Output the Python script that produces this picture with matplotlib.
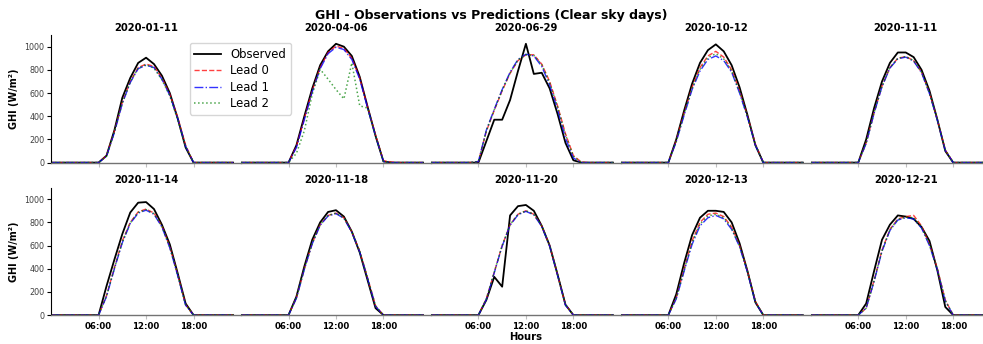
import numpy as np
import matplotlib.pyplot as plt

# ---------------- DATA ----------------
hours = list(range(24))
dates = ["2020-01-11", "2020-04-06", "2020-06-29", "2020-10-12", "2020-11-11",
         "2020-11-14", "2020-11-18", "2020-11-20", "2020-12-13", "2020-12-21"]

# hourly GHI (W/m2), index = hour of day
observed = [
    [0, 0, 0, 0, 0, 0, 0, 60, 280, 560, 730, 860, 905, 850, 750, 600, 380, 130, 0, 0, 0, 0, 0, 0],
    [0, 0, 0, 0, 0, 0, 0, 150, 400, 640, 840, 960, 1025, 1000, 920, 740, 480, 230, 10, 0, 0, 0, 0, 0],
    [0, 0, 0, 0, 0, 0, 0, 185, 370, 370, 540, 790, 1025, 765, 775, 640, 420, 170, 20, 0, 0, 0, 0, 0],
    [0, 0, 0, 0, 0, 0, 0, 200, 450, 680, 860, 970, 1020, 960, 840, 650, 410, 150, 0, 0, 0, 0, 0, 0],
    [0, 0, 0, 0, 0, 0, 0, 200, 470, 700, 860, 950, 950, 910, 800, 620, 370, 100, 0, 0, 0, 0, 0, 0],
    [0, 0, 0, 0, 0, 0, 0, 250, 480, 700, 885, 970, 975, 915, 780, 610, 360, 100, 0, 0, 0, 0, 0, 0],
    [0, 0, 0, 0, 0, 0, 0, 160, 420, 650, 800, 890, 905, 850, 720, 540, 300, 60, 0, 0, 0, 0, 0, 0],
    [0, 0, 0, 0, 0, 0, 0, 130, 330, 245, 860, 940, 950, 900, 770, 600, 350, 90, 0, 0, 0, 0, 0, 0],
    [0, 0, 0, 0, 0, 0, 0, 180, 450, 690, 840, 900, 900, 890, 800, 620, 380, 110, 0, 0, 0, 0, 0, 0],
    [0, 0, 0, 0, 0, 0, 0, 100, 380, 650, 780, 860, 850, 830, 760, 640, 385, 70, 0, 0, 0, 0, 0, 0],
]

lead0 = [
    [0, 0, 0, 0, 0, 0, 0, 60, 270, 520, 700, 820, 850, 830, 730, 590, 390, 150, 0, 0, 0, 0, 0, 0],
    [0, 0, 0, 0, 0, 0, 0, 140, 380, 620, 820, 950, 1005, 985, 900, 730, 480, 240, 15, 5, 0, 0, 0, 0],
    [0, 0, 0, 0, 0, 0, 10, 270, 450, 620, 770, 880, 930, 930, 850, 700, 490, 250, 60, 5, 0, 0, 0, 0],
    [0, 0, 0, 0, 0, 0, 0, 190, 430, 650, 820, 920, 960, 910, 800, 620, 400, 160, 0, 0, 0, 0, 0, 0],
    [0, 0, 0, 0, 0, 0, 0, 170, 430, 660, 820, 900, 915, 880, 780, 600, 370, 110, 0, 0, 0, 0, 0, 0],
    [0, 0, 0, 0, 0, 0, 0, 170, 410, 640, 800, 890, 915, 880, 770, 590, 350, 90, 0, 0, 0, 0, 0, 0],
    [0, 0, 0, 0, 0, 0, 0, 150, 400, 620, 780, 860, 880, 840, 720, 550, 320, 80, 0, 0, 0, 0, 0, 0],
    [0, 0, 0, 0, 0, 0, 0, 140, 370, 600, 780, 870, 900, 870, 770, 600, 350, 90, 0, 0, 0, 0, 0, 0],
    [0, 0, 0, 0, 0, 0, 0, 150, 400, 640, 800, 870, 880, 850, 760, 600, 380, 120, 0, 0, 0, 0, 0, 0],
    [0, 0, 0, 0, 0, 0, 0, 60, 300, 560, 740, 830, 850, 860, 770, 610, 400, 130, 0, 0, 0, 0, 0, 0],
]

lead1 = [
    [0, 0, 0, 0, 0, 0, 0, 55, 260, 510, 690, 810, 840, 820, 720, 580, 380, 140, 0, 0, 0, 0, 0, 0],
    [0, 0, 0, 0, 0, 0, 0, 130, 370, 610, 810, 940, 995, 975, 890, 720, 470, 230, 10, 0, 0, 0, 0, 0],
    [0, 0, 0, 0, 0, 0, 10, 280, 460, 630, 780, 890, 935, 920, 830, 670, 460, 210, 40, 0, 0, 0, 0, 0],
    [0, 0, 0, 0, 0, 0, 0, 180, 410, 630, 790, 890, 920, 880, 780, 600, 390, 150, 0, 0, 0, 0, 0, 0],
    [0, 0, 0, 0, 0, 0, 0, 165, 425, 655, 815, 895, 910, 875, 775, 595, 365, 105, 0, 0, 0, 0, 0, 0],
    [0, 0, 0, 0, 0, 0, 0, 160, 400, 625, 790, 880, 905, 870, 760, 580, 340, 85, 0, 0, 0, 0, 0, 0],
    [0, 0, 0, 0, 0, 0, 0, 145, 395, 615, 775, 855, 875, 835, 715, 545, 315, 75, 0, 0, 0, 0, 0, 0],
    [0, 0, 0, 0, 0, 0, 0, 135, 365, 595, 775, 865, 895, 865, 765, 595, 345, 85, 0, 0, 0, 0, 0, 0],
    [0, 0, 0, 0, 0, 0, 0, 140, 380, 610, 770, 840, 860, 830, 740, 590, 370, 110, 0, 0, 0, 0, 0, 0],
    [0, 0, 0, 0, 0, 0, 0, 60, 290, 550, 730, 820, 840, 830, 750, 600, 390, 120, 0, 0, 0, 0, 0, 0],
]

lead2 = [
    [0, 0, 0, 0, 0, 0, 0, 55, 265, 515, 695, 815, 845, 815, 715, 575, 370, 140, 0, 0, 0, 0, 0, 0],
    [0, 0, 0, 0, 0, 0, 0, 80, 275, 590, 805, 720, 630, 550, 860, 490, 470, 230, 10, 0, 0, 0, 0, 0],
    [0, 0, 0, 0, 0, 0, 10, 275, 455, 625, 775, 885, 930, 925, 845, 690, 480, 240, 55, 0, 0, 0, 0, 0],
    [0, 0, 0, 0, 0, 0, 0, 185, 420, 640, 805, 905, 940, 895, 790, 610, 395, 155, 0, 0, 0, 0, 0, 0],
    [0, 0, 0, 0, 0, 0, 0, 170, 430, 660, 820, 900, 915, 880, 780, 600, 370, 110, 0, 0, 0, 0, 0, 0],
    [0, 0, 0, 0, 0, 0, 0, 165, 405, 630, 795, 885, 910, 875, 765, 585, 345, 88, 0, 0, 0, 0, 0, 0],
    [0, 0, 0, 0, 0, 0, 0, 150, 400, 620, 780, 860, 880, 840, 720, 550, 320, 80, 0, 0, 0, 0, 0, 0],
    [0, 0, 0, 0, 0, 0, 0, 140, 370, 600, 780, 870, 900, 870, 770, 600, 350, 90, 0, 0, 0, 0, 0, 0],
    [0, 0, 0, 0, 0, 0, 0, 145, 390, 625, 785, 855, 870, 840, 750, 595, 375, 115, 0, 0, 0, 0, 0, 0],
    [0, 0, 0, 0, 0, 0, 0, 60, 295, 555, 735, 825, 845, 840, 760, 605, 395, 125, 0, 0, 0, 0, 0, 0],
]

tick_hours = [6, 12, 18]
tick_labels = ["06:00", "12:00", "18:00"]


# ---------------- FIGURE ----------------
fig, axes = plt.subplots(2, 5, figsize=(9.83, 3.44), dpi=100, sharex=True, sharey=True)
fig.subplots_adjust(left=0.052, right=1.018, bottom=0.084, top=0.898, wspace=0, hspace=0.196)

for i, ax in enumerate(axes.flat):
    ax.plot(hours, observed[i], color="black", lw=1.3, label="Observed")
    ax.plot(hours, lead0[i], color="red", ls="--", lw=1.0, alpha=0.75, label="Lead 0")
    ax.plot(hours, lead1[i], color="blue", ls="-.", lw=1.0, alpha=0.8, label="Lead 1")
    ax.plot(hours, lead2[i], color="green", ls=":", lw=1.1, alpha=0.7, label="Lead 2")

    ax.set_title(dates[i], fontsize=7.2, fontweight="bold", pad=3)
    ax.set_xlim(0, 24)
    ax.set_ylim(0, 1100)
    ax.set_xticks(tick_hours)
    ax.set_xticklabels(tick_labels, fontsize=6.2, fontweight="bold")
    ax.set_yticks([0, 200, 400, 600, 800, 1000])

    ax.spines["top"].set_visible(False)
    ax.spines["right"].set_visible(False)
    ax.spines["bottom"].set_color("0.45")
    ax.spines["bottom"].set_linewidth(1.0)
    ax.tick_params(axis="x", length=3, color="0.75", pad=2)
    ax.tick_params(axis="y", labelsize=5.8, labelcolor="0.25", length=3, pad=2)

    if i % 5 == 0:
        ax.set_ylabel("GHI (W/m²)", fontsize=7, fontweight="bold")
    else:
        ax.spines["left"].set_visible(False)
        ax.tick_params(axis="y", left=False)

axes[1, 2].set_xlabel("Hours", fontsize=7.2, fontweight="bold", labelpad=1)

handles, labels = axes[0, 0].get_legend_handles_labels()
fig.legend(handles, labels, loc="upper left", bbox_to_anchor=(0.187, 0.892),
           fontsize=8.4, handlelength=2.3, labelspacing=0.3, borderpad=0.4)

fig.suptitle("GHI - Observations vs Predictions (Clear sky days)", fontsize=9, fontweight="bold", y=0.975)

plt.savefig("out.png", dpi=100)
